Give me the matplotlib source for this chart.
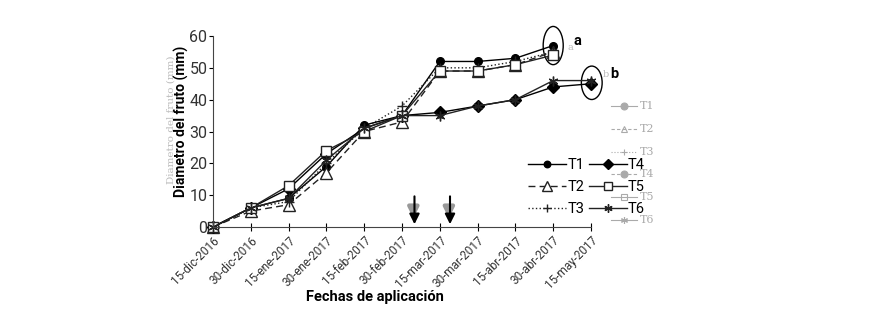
import numpy as np
import matplotlib.pyplot as plt
from matplotlib.lines import Line2D
from matplotlib.patches import Ellipse

plt.rcParams['font.family'] = ['Roboto', 'DejaVu Sans']

# Datos (diámetro del fruto, mm)
fechas = ['15-dic-2016', '30-dic-2016', '15-ene-2017', '30-ene-2017', '15-feb-2017',
          '30-feb-2017', '15-mar-2017', '30-mar-2017', '15-abr-2017', '30-abr-2017',
          '15-may-2017']
t1 = [0, 6, 9, 19, 32, 35, 52, 52, 53, 57, np.nan]
t2 = [0, 5, 7, 17, 30, 33, 49, 49, 51, 55, np.nan]
t3 = [0, 6, 8, 20, 31, 38, 50, 50, 52, 55, np.nan]
t4 = [0, 6, 12, 23, 31, 35, 36, 38, 40, 44, 45]
t5 = [0, 6, 13, 24, 30, 35, 49, 49, 51, 54, np.nan]
t6 = [0, 6, 9, 21, 31, 35, 35, 38, 40, 46, 46]
flechas = [5.33, 6.27]  # fechas de aplicación (posición en el eje)

fig = plt.figure(figsize=(8.72, 3.09), dpi=100)
ax = fig.add_axes([213/872, 1 - 227/309, 378/872, 191/309])
x = np.arange(len(fechas))

# Estilos de series
estilos = [
    (t1, dict(color='black', ls='-', marker='o', ms=5.5, mfc='black'), 'T1'),
    (t2, dict(color='#222', ls=(0, (5, 3)), marker='^', ms=8, mfc='white'), 'T2'),
    (t3, dict(color='#222', ls=':', marker='+', ms=7, mfc='none'), 'T3'),
    (t4, dict(color='black', ls='-', marker='D', ms=6.5, mfc='black'), 'T4'),
    (t5, dict(color='#222', ls='-', marker='s', ms=7, mfc='white'), 'T5'),
    (t6, dict(color='#222', ls='-', marker=(6, 2, 0), ms=7, mfc='none'), 'T6'),
]
handles = []
for datos, kw, nombre in estilos:
    h, = ax.plot(x, datos, lw=1, mew=1, label=nombre, clip_on=False, **kw)
    handles.append(h)

ax.set_xlim(0, 10)
ax.set_ylim(0, 60)
ax.set_yticks(range(0, 61, 10))
ax.set_xticks(x)
ax.set_xticklabels(fechas, rotation=45, ha='right', rotation_mode='anchor',
                   fontsize=8.5, color='#333')
ax.tick_params(axis='y', labelsize=11.5, labelcolor='#333', length=3, pad=1)
ax.tick_params(axis='x', direction='inout', length=6, pad=2)
for s in ['top', 'right']:
    ax.spines[s].set_visible(False)
ax.spines['left'].set_color('#444')
ax.spines['bottom'].set_color('#444')
fig.text(375/872, 1 - 297/309, 'Fechas de aplicación', fontsize=10.5,
         fontweight='bold', ha='center', va='center')
# rótulo fantasma del eje y, y el rótulo principal
fig.text(171/872, 1 - 120/309, 'Diametro del fruto (mm)', rotation=90, fontsize=7.5,
         family='DejaVu Serif', color='#bbb', ha='center', va='center')
fig.text(181/872, 1 - 121/309, 'Diametro del fruto (mm)', rotation=90, fontsize=10,
         fontweight='bold', ha='center', va='center')

# Flechas de aplicación (con sombra gris)
for fx in flechas:
    ax.annotate('', xy=(fx - 0.03, 1.8), xytext=(fx - 0.03, 7),
                arrowprops=dict(arrowstyle='-|>', color='#999', lw=3,
                                mutation_scale=15))
    ax.annotate('', xy=(fx, 0), xytext=(fx, 10.5),
                arrowprops=dict(arrowstyle='-|>', color='black', lw=1.5,
                                mutation_scale=15))

# Elipses de agrupamiento
ax.add_patch(Ellipse((9, 57), 0.53, 12, fill=False, lw=1, color='black', clip_on=False))
ax.add_patch(Ellipse((10.02, 45.3), 0.55, 10.5, fill=False, lw=1, color='black',
                     clip_on=False))
ax.text(9.53, 58.5, 'a', fontsize=10.5, fontweight='bold', va='center', clip_on=False)
ax.text(10.52, 48, 'b', fontsize=10.5, fontweight='bold', va='center', clip_on=False)
ax.text(9.37, 56.5, 'a', fontsize=7, color='#bbb', family='DejaVu Serif', va='center')
ax.text(10.3, 48, 'b', fontsize=7, color='#bbb', family='DejaVu Serif', va='center')

# Leyenda principal
ax.legend(handles=handles, ncol=2, frameon=False, fontsize=10.5,
          loc='upper left', bbox_to_anchor=(522/872, 1 - 152/309),
          bbox_transform=fig.transFigure, handlelength=2.6, handletextpad=0.1,
          columnspacing=0.3, labelspacing=0.55, borderaxespad=0, markerscale=0.85)

# Leyenda fantasma (gris)
marcas = ['o', '^', '+', 'o', 's', (6, 2, 0)]
lineas = ['-', (0, (3, 2)), ':', (0, (3, 2)), '-', '-']
for i, (nombre, m, ls) in enumerate(zip(['T1', 'T2', 'T3', 'T4', 'T5', 'T6'], marcas, lineas)):
    yy = 1 - (106 + i * 22.8) / 309
    fig.add_artist(Line2D([611/872, 637/872], [yy, yy], color='#aaa', lw=0.8, ls=ls))
    fig.add_artist(Line2D([624/872], [yy], color='#aaa', marker=m, ms=5,
                          mfc='#aaa' if m == 'o' else 'none', mew=0.8))
    fig.text(640/872, yy, nombre, fontsize=8, color='#aaa', family='DejaVu Serif',
             va='center')

fig.savefig('out.png', dpi=100)
